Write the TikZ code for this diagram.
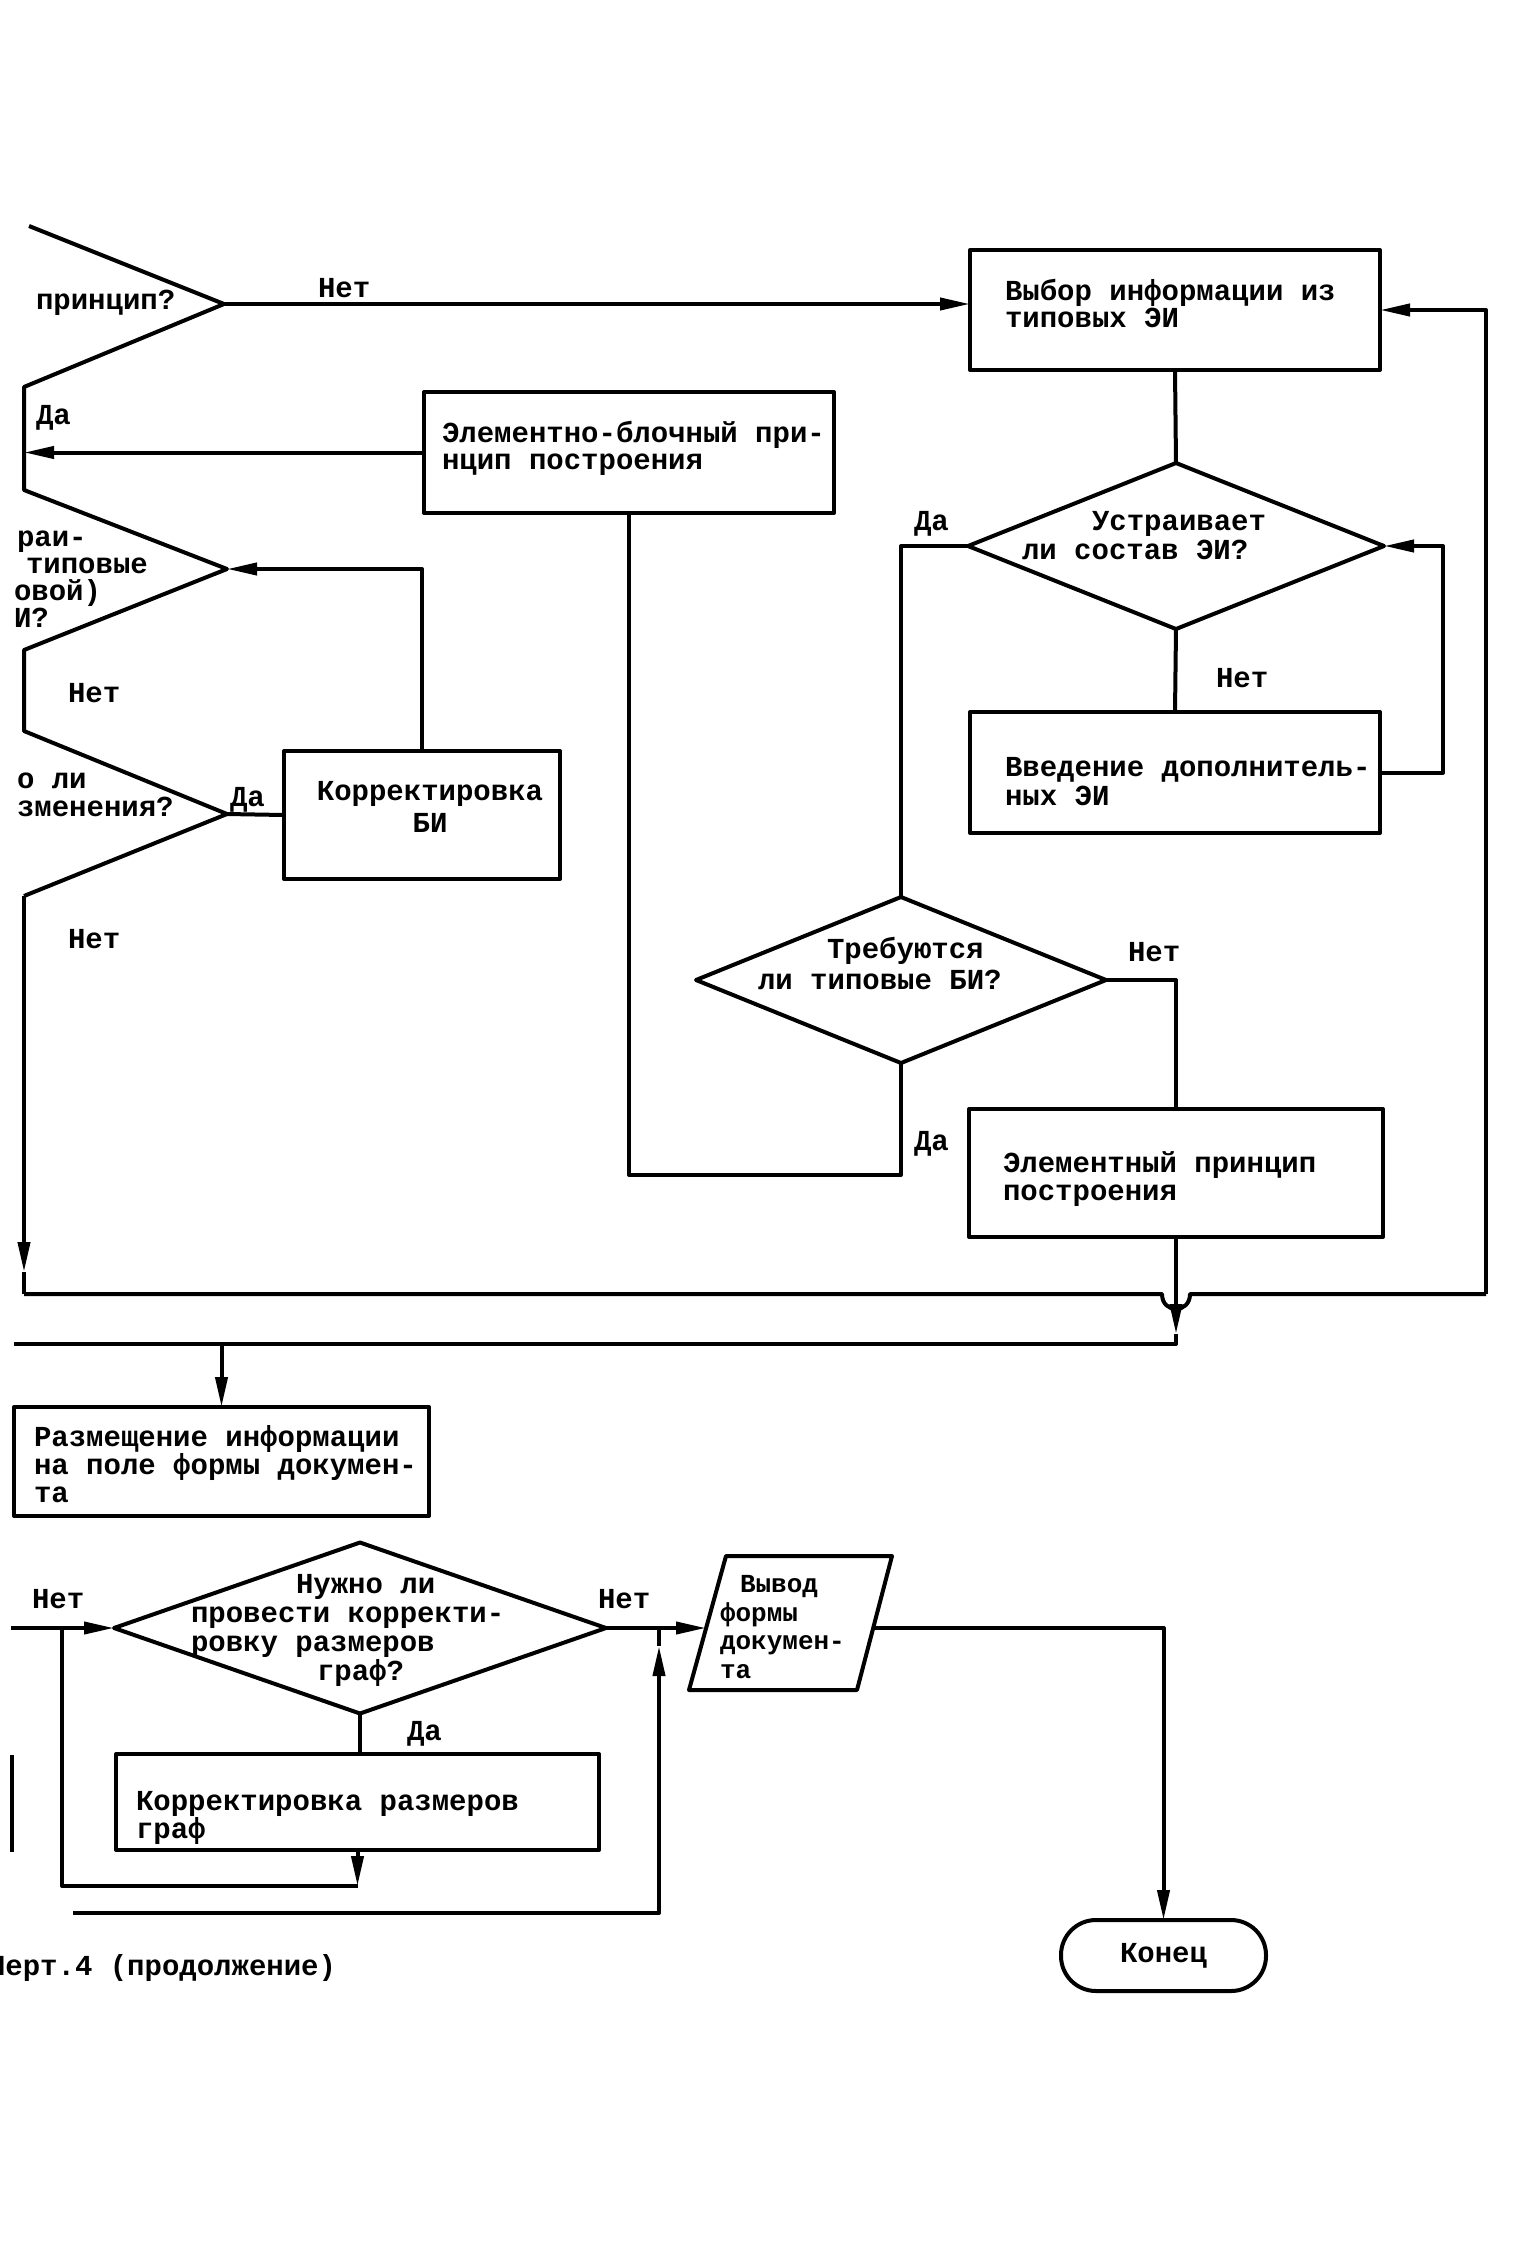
\documentclass[tikz,border=0pt]{standalone}
\usepackage{fontspec}
\newfontfamily\tw{Liberation Mono}
\usetikzlibrary{arrows.meta,shapes.geometric,calc}
\begin{document}
\begin{tikzpicture}[x=1pt,y=-1pt,line width=4pt,line join=round,
  box/.style={draw,rectangle,inner sep=0pt,outer sep=0pt},
  dia/.style={draw,diamond,inner sep=0pt,outer sep=0pt},
  tx/.style={font=\tw\bfseries\fontsize{29}{27}\selectfont,inner sep=0pt,outer sep=0pt,anchor=base west,align=left},
  txb/.style={tx,font=\tw\bfseries\fontsize{29}{27}\selectfont},
  arr/.style={-{Triangle[length=30pt,width=12pt]}}]
\useasboundingbox (0,0) rectangle (1516,2259);

% ---- boxes
\node[box,minimum width=410pt,minimum height=120pt] (W) at (1175,310) {};
\node[box,minimum width=410pt,minimum height=121pt] (EB) at (629,452.5) {};
\node[box,minimum width=276pt,minimum height=128pt] (KB) at (422,815) {};
\node[box,minimum width=410pt,minimum height=121pt] (V) at (1175,772.5) {};
\node[box,minimum width=414pt,minimum height=128pt] (El) at (1176,1173) {};
\node[box,minimum width=415pt,minimum height=109pt] (Rz) at (221.5,1461.5) {};
\node[box,minimum width=483pt,minimum height=96pt] (KG) at (357.5,1802) {};
\node[box,rounded corners=35pt,minimum width=205pt,minimum height=71pt,
      font=\tw\bfseries\fontsize{29}{27}\selectfont] (End) at (1163.5,1955.5) {Конец};

% ---- diamonds
\node[dia,minimum width=416pt,minimum height=166pt] (U) at (1176,546) {};
\node[dia,minimum width=410pt,minimum height=166pt] (T) at (901,980) {};
\node[dia,minimum width=492pt,minimum height=171pt] (N) at (360,1628) {};

% ---- output parallelogram
\coordinate (p1) at (726,1556);
\coordinate (p2) at (892,1556);
\coordinate (p3) at (857,1690);
\coordinate (p4) at (689,1690);
\draw (p1) -- (p2) -- (p3) -- (p4) -- cycle;
\coordinate (outL) at (706,1628);
\coordinate (outR) at (872,1628);

% ---- cut-off diamonds on the left
\coordinate (a1) at (29,226);
\coordinate (d1tip) at (224,304);
\coordinate (a2) at (24,387);
\coordinate (a3) at (24,490);
\coordinate (d2tip) at (227,569);
\coordinate (a4) at (24,650);
\coordinate (a5) at (24,731);
\coordinate (d3tip) at (227,814);
\coordinate (a6) at (24,896);
\coordinate (L1) at (24,452.5);
\coordinate (arrL) at (24,1272);
\coordinate (botL) at (24,1294);
\coordinate (R1) at (1486,1294);
\draw (a1) -- (d1tip) -- (a2) -- (a3) -- (d2tip) -- (a4) -- (a5) -- (d3tip) -- (a6);
\draw[arr] (a6) -- (arrL);
\draw (arrL) -- (botL);

% ---- connectors
\draw[arr] (d1tip) -- (d1tip -| W.west);
\draw[arr] (EB.west) -- (L1);
\draw[arr] (KB.north) |- (d2tip);
\draw (d3tip) -- (KB.west);
\draw (W.south) -- (U.north);
\draw (U.south) -- (V.north);
\draw[arr] (V.east) -- ++(63,0) |- (U.east);
\draw (U.west) -| (T.north);
\draw (T.east) -| (El.north);
\draw (T.south) -- ++(0,112) -| (EB.south);
\draw (botL) -- (1162,1294) .. controls (1162,1314) and (1190,1314) .. (1190,1294) -- (R1);
\draw[arr] (R1) |- (W.east);
\coordinate (elA) at (1176,1334);
\coordinate (elB) at (1176,1344);
\coordinate (hl) at (14,1344);
\coordinate (J) at (221.5,1344);
\draw[arr] (El.south) -- (elA);
\draw (elA) -- (elB) -- (hl);
\draw[arr] (J) -- (Rz.north);

\coordinate (E0) at (11,1628);
\draw[arr] (E0) -- (N.west);
\draw (N.south) -- (N.south |- KG.north);
\coordinate (kg1) at (357.5,1886);
\draw[arr] (KG.south) -- (kg1);
\draw (kg1) -- (62,1886) -- (62,1628);
\draw[arr] (N.east) -- (outL);
\coordinate (B1) at (73,1913);
\coordinate (B2) at (659,1646);
\coordinate (B3) at (659,1628);
\draw[arr] (B1) -- (659,1913) -- (B2);
\draw (B2) -- (B3);
\draw[arr] (outR) -| (End.north);
\coordinate (s1) at (12,1755);
\coordinate (s2) at (12,1852);
\draw (s1) -- (s2);

% ---- texts in boxes (anchor = baseline of the last line)
\node[tx] (tW) at (1005,327) {Выбор информации из\\типовых ЭИ};
\node[tx] (tEB) at (442,469) {Элементно-блочный при-\\нцип построения};
\node[tx,anchor=base,align=center,font=\tw\bfseries\fontsize{29}{32}\selectfont] (tKB) at (430,832) {Корректировка\\БИ};
\node[tx,font=\tw\bfseries\fontsize{29}{29}\selectfont] (tU) at (1022,559) {\hspace*{70pt}Устраивает\\ли состав ЭИ?};
\node[tx,font=\tw\bfseries\fontsize{29}{29}\selectfont] (tV) at (1005,805) {Введение дополнитель-\\ных ЭИ};
\node[tx,font=\tw\bfseries\fontsize{29}{31}\selectfont] (tT) at (758,989) {\hspace*{69pt}Требуются\\ли типовые БИ?};
\node[tx,font=\tw\bfseries\fontsize{29}{28}\selectfont] (tEl) at (1003,1200) {Элементный принцип\\построения};
\node[tx,font=\tw\bfseries\fontsize{29}{28}\selectfont] (tRz) at (34,1502) {Размещение информации\\на поле формы докумен-\\та};
\node[tx,font=\tw\bfseries\fontsize{29}{29}\selectfont] (tN) at (191,1680) {\hspace*{105pt}Нужно ли\\провести корректи-\\ровку размеров\\\hspace*{126pt}граф?};
\node[tx,font=\tw\bfseries\fontsize{29}{28}\selectfont] (tKG) at (136,1838) {Корректировка размеров\\граф};
\node[tx,font=\tw\bfseries\fontsize{26}{28.5}\selectfont] (tOut) at (720,1678) {\hspace*{20pt}Вывод\\формы\\докумен-\\та};

% ---- cut-off texts
\node[tx] (f1) at (36,309) {принцип?};
\node[tx] (f2) at (14,627) {\hspace*{3pt}раи-\\\hspace*{12pt}типовые\\овой)\\И?};
\node[tx,font=\tw\bfseries\fontsize{29}{28}\selectfont] (f6) at (17,816) {о ли\\зменения?};
\node[tx] (cap) at (-12,1975) {Черт.4 (продолжение)};

% ---- branch labels
\node[tx] (l1) at (318,297) {Нет};
\node[tx] (l2) at (36,424) {Да};
\node[tx] (l3) at (68,702) {Нет};
\node[tx] (l4) at (230,806) {Да};
\node[tx] (l5) at (68,948) {Нет};
\node[tx] (l6) at (914,530) {Да};
\node[tx] (l7) at (1216,687) {Нет};
\node[tx] (l8) at (1128,961) {Нет};
\node[tx] (l9) at (914,1150) {Да};
\node[tx] (l10) at (32,1608) {Нет};
\node[tx] (l11) at (598,1608) {Нет};
\node[tx] (l12) at (407,1740) {Да};
\end{tikzpicture}
\end{document}
